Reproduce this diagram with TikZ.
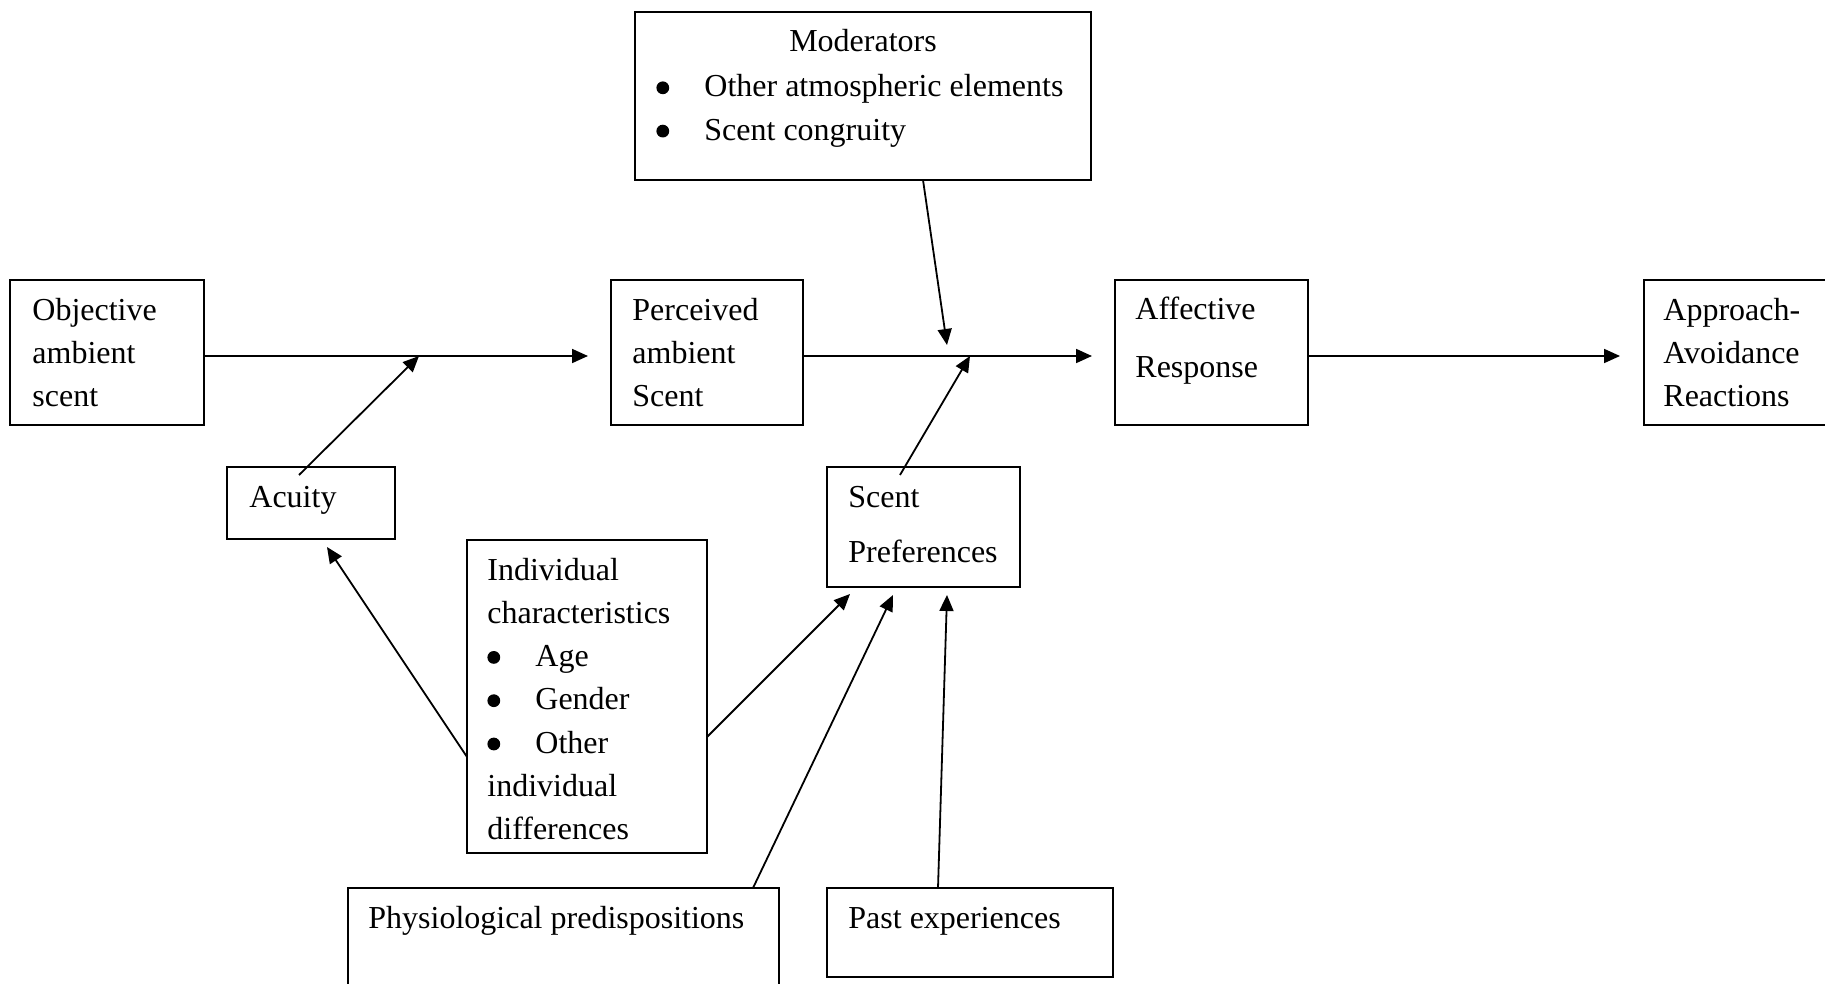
\documentclass[tikz,border=0pt]{standalone}
\usepackage{fontspec}
\setmainfont{Liberation Serif}
\usetikzlibrary{arrows.meta,fit}
% round list bullet, raised to mid x-height
\newcommand\listdot{\makebox[24pt][l]{\tikz[baseline=0pt]\fill (3.2pt,4.6pt) circle (3.2pt);}}
\begin{document}
\begin{tikzpicture}[x=0.5pt,y=-0.5pt,
  box/.style={draw,line width=0.9pt,rectangle,inner sep=0pt},
  txt/.style={anchor=base west,inner sep=0pt,align=left,
    font=\fontsize{16}{21.65}\selectfont},
  arr/.style={line width=0.9pt,-{Triangle[length=8pt,width=7pt]}}]
\useasboundingbox (0,0) rectangle (1825,984);
\clip (0,0) rectangle (1825,984);

% boxes
\node[box,fit={(635,12)(1091,180)}] (mod) {};
\node[box,fit={(10,280)(204,425)}] (obj) {};
\node[box,fit={(611,280)(803,425)}] (per) {};
\node[box,fit={(1115,280)(1308,425)}] (aff) {};
\node[box,fit={(1644,280)(1860,425)}] (app) {};
\node[box,fit={(227,467)(395,539)}] (acu) {};
\node[box,fit={(827,467)(1020,587)}] (pref) {};
\node[box,fit={(467,540)(707,853)}] (ind) {};
\node[box,fit={(348,888)(779,1010)}] (phy) {};
\node[box,fit={(827,888)(1113,977)}] (past) {};

% texts (multi-line nodes are placed by the baseline of their last line)
\node[txt,anchor=base] (modT) at (863,52) {Moderators};
\node[txt] (modL) at (656,140.3) {\listdot Other atmospheric elements\\ \listdot Scent congruity};
\node[txt] (objT) at (32,406.6) {Objective\\ ambient\\ scent};
\node[txt] (perT) at (632,406.6) {Perceived\\ ambient\\ Scent};
\node[txt,font=\fontsize{16}{28.5}\selectfont] (affT) at (1135,377) {Affective\\ Response};
\node[txt] (appT) at (1663,406.6) {Approach-\\ Avoidance\\ Reactions};
\node[txt] (acuT) at (249,507) {Acuity};
\node[txt,font=\fontsize{16}{27.5}\selectfont] (prefT) at (848,562) {Scent\\ Preferences};
\node[txt] (indT) at (487,839.8) {Individual\\ characteristics\\ \listdot Age\\ \listdot Gender\\ \listdot Other\\ individual\\ differences};
\node[txt] (phyT) at (368,928) {Physiological predispositions};
\node[txt] (pastT) at (848,928) {Past experiences};

% arrow ends on the main path, just short of the next box
\coordinate (e1) at (588,356);
\coordinate (e2) at (1092,356);
\coordinate (e3) at (1620,356);
% junction points on the main path
\coordinate (j1) at (419,356);
\coordinate (j2) at (970,356);
\coordinate (m2) at (947,345);
\coordinate (acuS) at (299,475);
\coordinate (prefS) at (900,475);
\coordinate (acuE) at (327,547);
\coordinate (indS1) at (467,757);
\coordinate (indS2) at (707,737);
\coordinate (prefE1) at (850,594);
\coordinate (prefE2) at (893,595);
\coordinate (prefE3) at (947,595);
\coordinate (phyS) at (753,888);
\coordinate (pastS) at (938,888);
\coordinate (modS) at (923,180);

% main path
\draw[arr] (obj.east |- e1) -- (e1);
\draw[arr] (per.east |- e2) -- (e2);
\draw[arr] (aff.east |- e3) -- (e3);

% influences
\draw[arr] (modS) -- (m2);
\draw[arr] (acuS) -- (j1);
\draw[arr] (prefS) -- (j2);
\draw[arr] (indS1) -- (acuE);
\draw[arr] (indS2) -- (prefE1);
\draw[arr] (phyS) -- (prefE2);
\draw[arr] (pastS) -- (prefE3);
\end{tikzpicture}
\end{document}
